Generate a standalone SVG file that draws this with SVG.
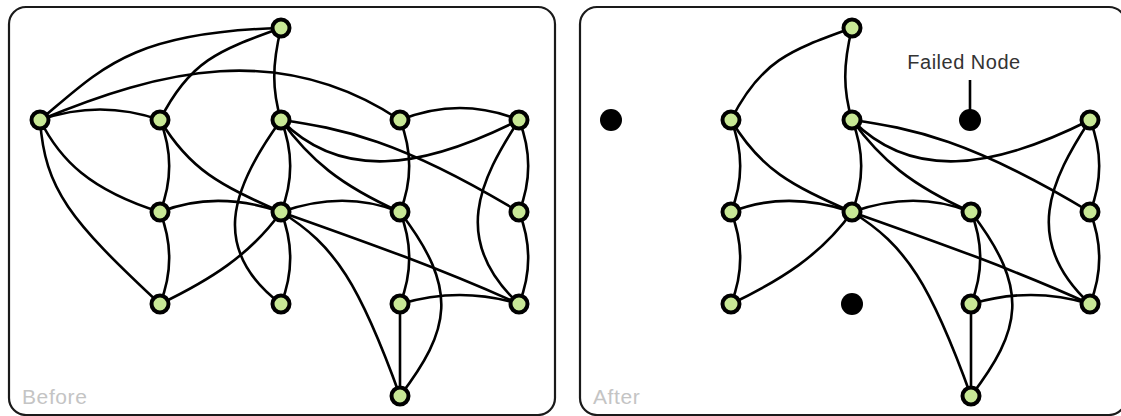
<svg xmlns="http://www.w3.org/2000/svg" width="1121" height="416" viewBox="0 0 1121 416">
<style>
.panel{fill:#fff;stroke:#1a1a1a;stroke-width:2.2}
.edge{fill:none;stroke:#000;stroke-width:2.6}
.node{fill:#c8e896;stroke:#000;stroke-width:4}
.failed{fill:#000}
.cap{font-family:"Liberation Sans",Arial,sans-serif;font-size:21px;fill:#c4c4c4;letter-spacing:0.6px}
.lbl{font-family:"Liberation Sans",Arial,sans-serif;font-size:20px;fill:#333;letter-spacing:0.5px}
</style>
<rect width="1121" height="416" fill="#fff"/>
<g id="panel-before"><rect class="panel" x="9" y="7" width="546" height="408" rx="17"/><text class="cap" x="22" y="404">Before</text></g>
<g id="panel-after"><rect class="panel" x="580" y="7" width="546" height="408" rx="17"/><text class="cap" x="593" y="404">After</text></g>

<g id="connectors-before">
<path class="edge" d="M40,120 C100,70 130,32 281,28"/>
<path class="edge" d="M160,120 C190,60 220,50 281,28"/>
<path class="edge" d="M281,28 C272,65 272,90 281,120"/>
<path class="edge" d="M40,120 C160,70 280,40 400,120"/>
<path class="edge" d="M40,120 C80,106 120,106 160,120"/>
<path class="edge" d="M40,120 C60,160 90,190 160,212"/>
<path class="edge" d="M40,120 C45,190 70,220 160,304"/>
<path class="edge" d="M160,120 C172,150 172,182 160,212"/>
<path class="edge" d="M160,120 C190,170 220,185 281,212"/>
<path class="edge" d="M281,120 C293,150 293,182 281,212"/>
<path class="edge" d="M281,120 C230,190 210,250 281,304"/>
<path class="edge" d="M281,120 C310,160 340,185 400,212"/>
<path class="edge" d="M281,120 C340,180 420,170 519,120"/>
<path class="edge" d="M281,120 C340,128 400,140 519,212"/>
<path class="edge" d="M400,120 C412,150 412,182 400,212"/>
<path class="edge" d="M400,120 C440,104 480,104 519,120"/>
<path class="edge" d="M519,120 C480,180 450,240 519,304"/>
<path class="edge" d="M519,120 C531,150 531,182 519,212"/>
<path class="edge" d="M160,212 C200,196 240,198 281,212"/>
<path class="edge" d="M281,212 C320,198 360,196 400,212"/>
<path class="edge" d="M160,212 C172,242 172,274 160,304"/>
<path class="edge" d="M160,304 C210,280 250,255 281,212"/>
<path class="edge" d="M281,212 C293,242 293,274 281,304"/>
<path class="edge" d="M281,212 C360,240 440,268 519,304"/>
<path class="edge" d="M281,212 C335,245 360,285 400,396"/>
<path class="edge" d="M400,212 C412,242 412,274 400,304"/>
<path class="edge" d="M400,212 C460,290 450,330 400,396"/>
<path class="edge" d="M400,304 L400,396"/>
<path class="edge" d="M400,304 C440,292 480,292 519,304"/>
<path class="edge" d="M519,212 C531,242 531,274 519,304"/>
</g>

<g id="connectors-after" transform="translate(571,0)">
<path class="edge" d="M160,120 C190,60 220,50 281,28"/>
<path class="edge" d="M281,28 C272,65 272,90 281,120"/>
<path class="edge" d="M160,120 C172,150 172,182 160,212"/>
<path class="edge" d="M160,120 C190,170 220,185 281,212"/>
<path class="edge" d="M281,120 C293,150 293,182 281,212"/>
<path class="edge" d="M281,120 C310,160 340,185 400,212"/>
<path class="edge" d="M281,120 C340,180 420,170 519,120"/>
<path class="edge" d="M281,120 C340,128 400,140 519,212"/>
<path class="edge" d="M519,120 C480,180 450,240 519,304"/>
<path class="edge" d="M519,120 C531,150 531,182 519,212"/>
<path class="edge" d="M160,212 C200,196 240,198 281,212"/>
<path class="edge" d="M281,212 C320,198 360,196 400,212"/>
<path class="edge" d="M160,212 C172,242 172,274 160,304"/>
<path class="edge" d="M160,304 C210,280 250,255 281,212"/>
<path class="edge" d="M281,212 C360,240 440,268 519,304"/>
<path class="edge" d="M281,212 C335,245 360,285 400,396"/>
<path class="edge" d="M400,212 C412,242 412,274 400,304"/>
<path class="edge" d="M400,212 C460,290 450,330 400,396"/>
<path class="edge" d="M400,304 L400,396"/>
<path class="edge" d="M400,304 C440,292 480,292 519,304"/>
<path class="edge" d="M519,212 C531,242 531,274 519,304"/>
<path class="edge" d="M399,80 L399,112"/>
</g>

<g id="before-nodes">
<g id="b-T"><circle class="node" cx="281" cy="28" r="8.5"/></g>
<g id="b-A1"><circle class="node" cx="40" cy="120" r="8.5"/></g>
<g id="b-B1"><circle class="node" cx="160" cy="120" r="8.5"/></g>
<g id="b-C1"><circle class="node" cx="281" cy="120" r="8.5"/></g>
<g id="b-D1"><circle class="node" cx="400" cy="120" r="8.5"/></g>
<g id="b-E1"><circle class="node" cx="519" cy="120" r="8.5"/></g>
<g id="b-B2"><circle class="node" cx="160" cy="212" r="8.5"/></g>
<g id="b-C2"><circle class="node" cx="281" cy="212" r="8.5"/></g>
<g id="b-D2"><circle class="node" cx="400" cy="212" r="8.5"/></g>
<g id="b-E2"><circle class="node" cx="519" cy="212" r="8.5"/></g>
<g id="b-B3"><circle class="node" cx="160" cy="304" r="8.5"/></g>
<g id="b-C3"><circle class="node" cx="281" cy="304" r="8.5"/></g>
<g id="b-D3"><circle class="node" cx="400" cy="304" r="8.5"/></g>
<g id="b-E3"><circle class="node" cx="519" cy="304" r="8.5"/></g>
<g id="b-F"><circle class="node" cx="400" cy="396" r="8.5"/></g>
</g>

<g id="after-nodes" transform="translate(571,0)">
<g id="a-T"><circle class="node" cx="281" cy="28" r="8.5"/></g>
<g id="a-A1"><circle class="failed" cx="40" cy="120" r="11"/></g>
<g id="a-B1"><circle class="node" cx="160" cy="120" r="8.5"/></g>
<g id="a-C1"><circle class="node" cx="281" cy="120" r="8.5"/></g>
<g id="a-D1"><circle class="failed" cx="399" cy="120" r="11"/><text class="lbl" x="393" y="69" text-anchor="middle">Failed Node</text></g>
<g id="a-E1"><circle class="node" cx="519" cy="120" r="8.5"/></g>
<g id="a-B2"><circle class="node" cx="160" cy="212" r="8.5"/></g>
<g id="a-C2"><circle class="node" cx="281" cy="212" r="8.5"/></g>
<g id="a-D2"><circle class="node" cx="400" cy="212" r="8.5"/></g>
<g id="a-E2"><circle class="node" cx="519" cy="212" r="8.5"/></g>
<g id="a-B3"><circle class="node" cx="160" cy="304" r="8.5"/></g>
<g id="a-C3"><circle class="failed" cx="281" cy="304" r="11"/></g>
<g id="a-D3"><circle class="node" cx="400" cy="304" r="8.5"/></g>
<g id="a-E3"><circle class="node" cx="519" cy="304" r="8.5"/></g>
<g id="a-F"><circle class="node" cx="400" cy="396" r="8.5"/></g>
</g>
</svg>
